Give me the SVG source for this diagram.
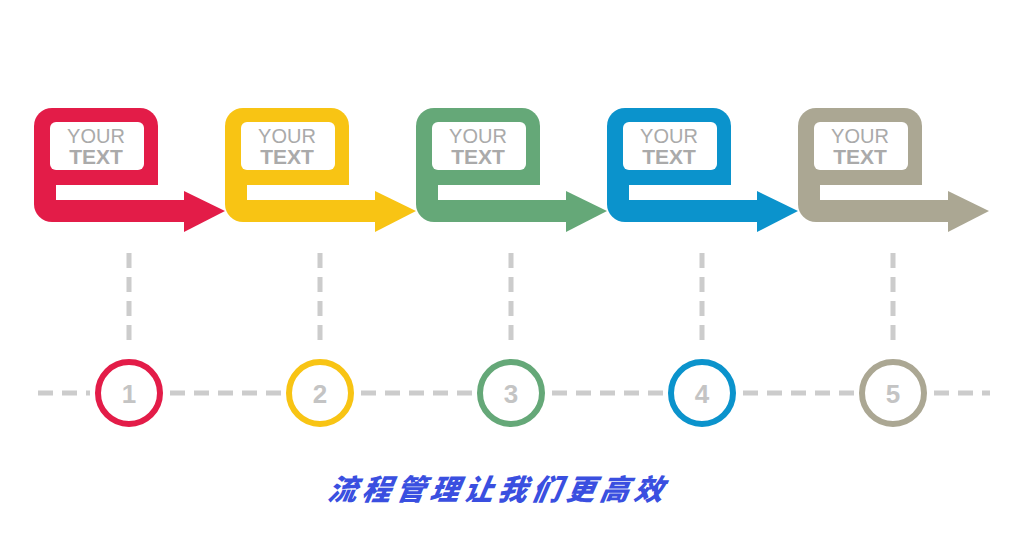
<svg xmlns="http://www.w3.org/2000/svg" width="1024" height="537" viewBox="0 0 1024 537">
<defs>
<style>
.w{fill:#fff}
.t1{font-family:"Liberation Sans",Arial,sans-serif;font-size:20px;fill:#aaa;text-anchor:middle}
.t2{font-family:"Liberation Sans",Arial,sans-serif;font-size:21px;font-weight:bold;fill:#aaa;text-anchor:middle}
.num{font-family:"Liberation Sans",Arial,sans-serif;font-size:26px;font-weight:bold;fill:#c4c4c4;text-anchor:middle}
.dash{stroke:#cccccc;stroke-width:5;stroke-dasharray:15 9;fill:none}
.ring{fill:#fff;stroke-width:6}
</style>
<g id="unit">
<rect x="34" y="108" width="124" height="114" rx="18"/>
<rect class="w" x="50" y="122" width="94" height="48" rx="6"/>
<path class="w" d="M56 185 H158 V200 H56 Z"/>
<rect x="140" y="200" width="55" height="22"/>
<polygon points="184,191 225,211 184,232"/>
<text class="t1" x="96" y="143">YOUR</text>
<text class="t2" x="96" y="164">TEXT</text>
</g>
</defs>
<rect width="1024" height="537" fill="#fff"/>
<g id="connectors">
<path class="dash" d="M129 253 V340 M320 253 V340 M511 253 V340 M702 253 V340 M893 253 V340"/>
<path class="dash" d="M38 393 H90 M170 393 H282 M361 393 H473 M552 393 H664 M743 393 H855 M934 393 H990"/>
</g>
<g id="node1" fill="#e31c48"><use href="#unit"/><circle class="ring" stroke="#e31c48" cx="129" cy="393" r="31"/><text class="num" x="129" y="403">1</text></g>
<g id="node2" fill="#f8c414" transform="translate(191,0)"><use href="#unit"/><circle class="ring" stroke="#f8c414" cx="129" cy="393" r="31"/><text class="num" x="129" y="403">2</text></g>
<g id="node3" fill="#65a878" transform="translate(382,0)"><use href="#unit"/><circle class="ring" stroke="#65a878" cx="129" cy="393" r="31"/><text class="num" x="129" y="403">3</text></g>
<g id="node4" fill="#0b93cc" transform="translate(573,0)"><use href="#unit"/><circle class="ring" stroke="#0b93cc" cx="129" cy="393" r="31"/><text class="num" x="129" y="403">4</text></g>
<g id="node5" fill="#aba793" transform="translate(764,0)"><use href="#unit"/><circle class="ring" stroke="#aba793" cx="129" cy="393" r="31"/><text class="num" x="129" y="403">5</text></g>
<text x="497" y="500" font-family="'Noto Sans CJK SC',sans-serif" font-size="29" font-weight="900" font-style="italic" fill="#3a4fe0" text-anchor="middle" letter-spacing="5" transform="skewX(-10) translate(88,0)">流程管理让我们更高效</text>
</svg>
